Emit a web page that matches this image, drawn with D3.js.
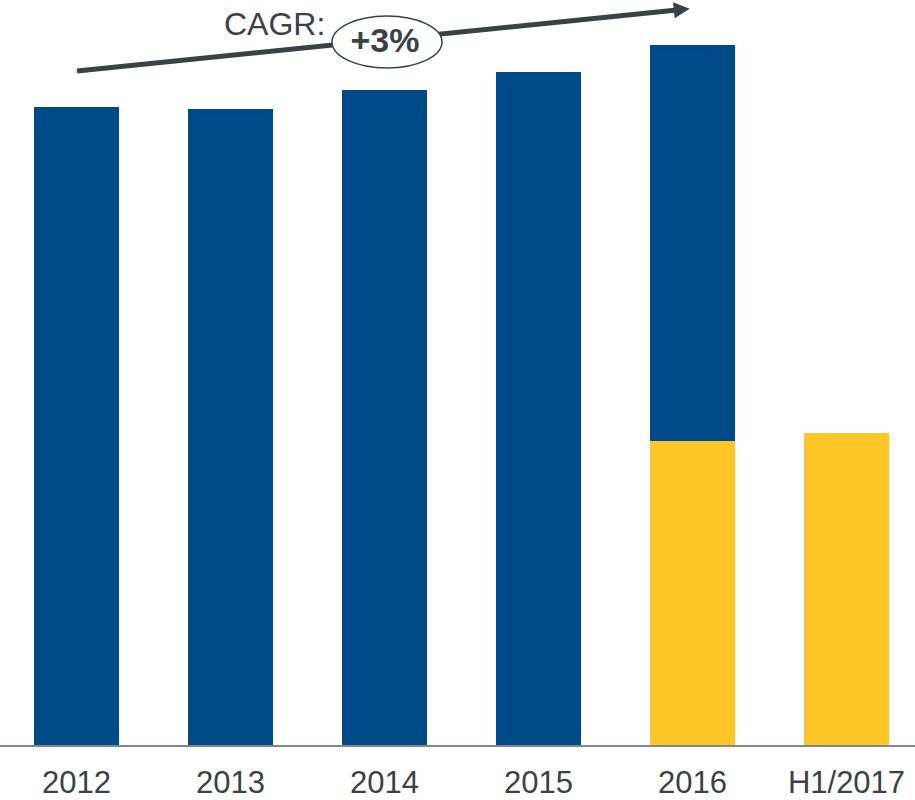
<!DOCTYPE html>
<html><head><meta charset="utf-8">
<script src="https://cdn.jsdelivr.net/npm/d3@7"></script>
<style>html,body{margin:0;padding:0;background:#fff;}svg{display:block;}</style>
</head><body>
<svg id="chart" width="915" height="800"></svg>
<script>
const categories = ["2012", "2013", "2014", "2015", "2016", "H1/2017"];
const fullYear = [639, 637, 656, 674, 701, null];
const firstHalf = [null, null, null, null, 305, 313];
const cagrLabel = "CAGR:";
const cagrValue = "+3%";

const W = 915, H = 800, baseY = 746;
const svg = d3.select("#chart");
const x = d3.scaleBand().domain(categories).range([-0.5, 923.5]).paddingInner(0.448).paddingOuter(0.224);
const y = d3.scaleLinear().domain([0, 746]).range([baseY, 0]);

const blue = "#004a87", yellow = "#fdc526", grey = "#3b4245";
const font = "Liberation Sans, Arial, sans-serif";

svg.append("g").selectAll("rect.full")
  .data(categories.map((c, i) => ({c, v: fullYear[i]})).filter(d => d.v != null))
  .join("rect")
  .attr("x", d => x(d.c)).attr("width", x.bandwidth())
  .attr("y", d => y(d.v)).attr("height", d => y(0) - y(d.v))
  .attr("fill", blue);

svg.append("g").selectAll("rect.half")
  .data(categories.map((c, i) => ({c, v: firstHalf[i]})).filter(d => d.v != null))
  .join("rect")
  .attr("x", d => x(d.c)).attr("width", x.bandwidth())
  .attr("y", d => y(d.v)).attr("height", d => y(0) - y(d.v))
  .attr("fill", yellow);

// axis
const axis = d3.axisBottom(x).tickSize(0).tickPadding(0);
const ag = svg.append("g").attr("transform", `translate(0,${baseY})`).call(axis);
ag.select(".domain").remove();
ag.append("line").attr("x1", 0).attr("x2", W).attr("y1", 0).attr("y2", 0)
  .attr("stroke", "#7f898d").attr("stroke-width", 2);
ag.selectAll(".tick text")
  .attr("y", 47).attr("dy", null)
  .attr("font-family", font)
  .attr("font-size", 31).attr("fill", grey);

// CAGR arrow
const defs = svg.append("defs");
defs.append("marker").attr("id", "arrow").attr("viewBox", "0 0 10 10")
  .attr("refX", 2).attr("refY", 5).attr("markerWidth", 3.6).attr("markerHeight", 3.2)
  .attr("orient", "auto").attr("markerUnits", "strokeWidth")
  .append("path").attr("d", "M0,0 L10,5 L0,10 Z").attr("fill", grey);

svg.append("line").attr("x1", 77).attr("y1", 71).attr("x2", 677).attr("y2", 10)
  .attr("stroke", grey).attr("stroke-width", 5).attr("marker-end", "url(#arrow)");

svg.append("text").attr("x", 224).attr("y", 35)
  .attr("font-family", font).attr("font-size", 32)
  .attr("fill", grey).text(cagrLabel);

svg.append("ellipse").attr("cx", 387).attr("cy", 42).attr("rx", 55).attr("ry", 26)
  .attr("fill", "#fff").attr("stroke", grey).attr("stroke-width", 1.5);
svg.append("text").attr("x", 385).attr("y", 52).attr("text-anchor", "middle")
  .attr("font-family", font).attr("font-size", 34)
  .attr("font-weight", "bold").attr("fill", grey).text(cagrValue);
</script>
</body></html>
